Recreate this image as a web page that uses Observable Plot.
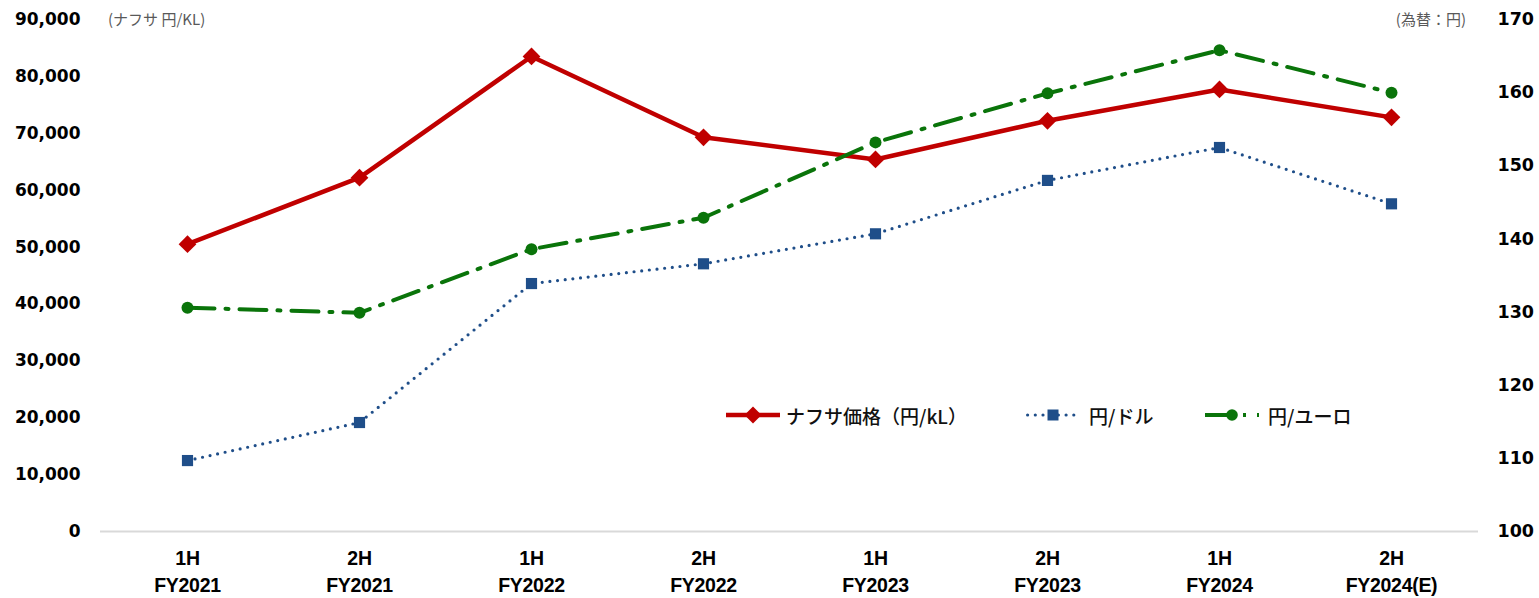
<!DOCTYPE html>
<html>
<head>
<meta charset="utf-8">
<script src="https://cdn.jsdelivr.net/npm/d3@7"></script>
<script src="https://cdn.jsdelivr.net/npm/@observablehq/plot@0.6"></script>
<style>
  html, body { margin: 0; padding: 0; background: #fff; }
  #wrap { position: relative; width: 1539px; height: 598px; overflow: hidden; }
  .note { position: absolute; font-family: "Noto Sans CJK JP", "Noto Sans", sans-serif; font-size: 15px; color: #595959; line-height: 1; white-space: nowrap; }
  .leg { position: absolute; display: flex; align-items: center; height: 24px; white-space: nowrap; }
  .leg span { font-family: "Noto Sans CJK JP", sans-serif; font-size: 19px; font-weight: 500; color: #111; }
  g[aria-label="x-axis tick label"] text { letter-spacing: -0.3px; }
</style>
</head>
<body>
<div id="wrap"></div>
<script>
// ---- data ----
const categories = ["1H\nFY2021", "2H\nFY2021", "1H\nFY2022", "2H\nFY2022", "1H\nFY2023", "2H\nFY2023", "1H\nFY2024", "2H\nFY2024(E)"];
const naphtha = [50500, 62200, 83500, 69300, 65400, 72200, 77700, 72800];   // 円/kL (left axis)
const usdJpy  = [109.7, 114.9, 133.9, 136.6, 140.7, 148.0, 152.5, 144.8];   // 円/ドル (right axis)
const eurJpy  = [130.6, 129.9, 138.6, 142.9, 153.2, 159.9, 165.8, 160.0];   // 円/ユーロ (right axis)
const leftTicks  = [0, 10000, 20000, 30000, 40000, 50000, 60000, 70000, 80000, 90000];
const rightTicks = [100, 110, 120, 130, 140, 150, 160, 170];
const seriesNames = ["ナフサ価格（円/kL）", "円/ドル", "円/ユーロ"];
const leftUnit = "(ナフサ 円/KL)";
const rightUnit = "(為替：円)";

// ---- helpers ----
const leftDomain = [0, 90000];
const rightDomain = [100, 170];
const toLeft = v => (v - rightDomain[0]) / (rightDomain[1] - rightDomain[0]) * (leftDomain[1] - leftDomain[0]) + leftDomain[0];

const rowsN = categories.map((c, i) => ({cat: c, v: naphtha[i]}));
const rowsU = categories.map((c, i) => ({cat: c, v: usdJpy[i]}));
const rowsE = categories.map((c, i) => ({cat: c, v: eurJpy[i]}));

const RED = "#c00000", BLUE = "#1f4e89", GREEN = "#0a740a";
const numFont = {fontSize: 17, fontWeight: "bold", fontFamily: "DejaVu Sans, sans-serif", fill: "#000"};

const chart = Plot.plot({
  width: 1539,
  height: 598,
  marginLeft: 100,
  marginRight: 61,
  marginTop: 19,
  marginBottom: 67,
  style: {background: "#fff"},
  x: {type: "point", domain: categories, padding: 0.5},
  y: {domain: leftDomain},
  marks: [
    Plot.ruleY([0], {stroke: "#d9d9d9", strokeWidth: 2}),
    Plot.axisY(leftTicks, {anchor: "left", label: null, tickSize: 0, tickPadding: 20, tickFormat: d3.format(","), ...numFont}),
    Plot.axisY(rightTicks, {anchor: "right", label: null, y: d => toLeft(d), tickSize: 0, tickPadding: 19, tickFormat: d => String(d), ...numFont, fontSize: 17.5}),
    Plot.axisX({label: null, tickSize: 0, tickPadding: 14, fontSize: 19.5, fontWeight: "bold", fontFamily: "Liberation Sans, Arial, sans-serif", lineHeight: 1.38, fill: "#000"}),
    // naphtha
    Plot.lineY(rowsN, {x: "cat", y: "v", stroke: RED, strokeWidth: 4.5}),
    Plot.dot(rowsN, {x: "cat", y: "v", symbol: "diamond2", r: 8, fill: RED, stroke: "none"}),
    // USD
    Plot.lineY(rowsU, {x: "cat", y: d => toLeft(d.v), stroke: BLUE, strokeWidth: 3.2, strokeDasharray: "0 7.7", strokeLinecap: "round"}),
    Plot.dot(rowsU, {x: "cat", y: d => toLeft(d.v), symbol: "square", r: 6.3, fill: BLUE, stroke: "none"}),
    // EUR
    Plot.lineY(rowsE, {x: "cat", y: d => toLeft(d.v), stroke: GREEN, strokeWidth: 4, strokeDasharray: "27 11 3 11"}),
    Plot.dot(rowsE, {x: "cat", y: d => toLeft(d.v), symbol: "circle", r: 6, fill: GREEN, stroke: "none"})
  ]
});

const wrap = document.getElementById("wrap");
wrap.appendChild(chart);

// unit notes
const n1 = document.createElement("div");
n1.className = "note"; n1.textContent = leftUnit;
n1.style.left = "108px"; n1.style.top = "11px";
wrap.appendChild(n1);
const n2 = document.createElement("div");
n2.className = "note"; n2.textContent = rightUnit;
n2.style.right = (1539 - 1466) + "px"; n2.style.top = "11px";
wrap.appendChild(n2);

// legend
const legendDefs = [
  {left: 726, color: RED, width: 4.5, dash: null, sym: "diamond"},
  {left: 1026, color: BLUE, width: 3.2, dash: "0 7.7", cap: "round", sym: "square"},
  {left: 1205, color: GREEN, width: 4, dash: "27 11 3 11", sym: "circle"}
];
legendDefs.forEach((d, i) => {
  const item = document.createElement("div");
  item.className = "leg";
  item.style.left = d.left + "px";
  item.style.top = (415 - 12) + "px";
  const W = 54, H = 20, cx = 27, cy = 10;
  let marker = "";
  if (d.sym === "diamond") marker = `<path d="M${cx},${cy-8.5}L${cx+8.5},${cy}L${cx},${cy+8.5}L${cx-8.5},${cy}Z" fill="${d.color}"/>`;
  if (d.sym === "square") marker = `<rect x="${cx-5.5}" y="${cy-5.5}" width="11" height="11" fill="${d.color}"/>`;
  if (d.sym === "circle") marker = `<circle cx="${cx}" cy="${cy}" r="5.8" fill="${d.color}"/>`;
  item.innerHTML = `<svg width="${W}" height="${H}" style="display:block">
    <line x1="${d.sym==='square'?1.6:0}" y1="${cy}" x2="${W}" y2="${cy}" stroke="${d.color}" stroke-width="${d.width}"
      ${d.dash ? `stroke-dasharray="${d.dash}"` : ""} ${d.cap ? `stroke-linecap="${d.cap}"` : ""}/>
    ${marker}</svg><span style="margin-left:${i === 0 ? 6 : 9}px">${seriesNames[i]}</span>`;
  wrap.appendChild(item);
});
</script>
</body>
</html>
